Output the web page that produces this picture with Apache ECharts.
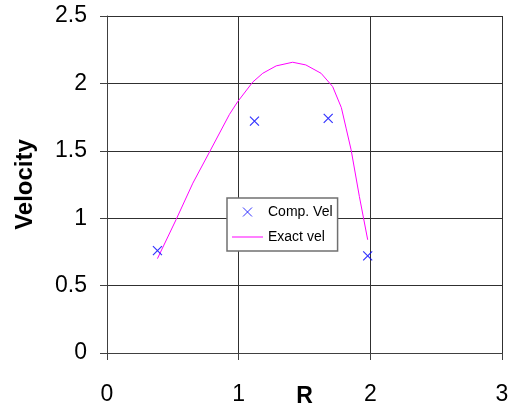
<!doctype html>
<html>
<head>
<meta charset="utf-8">
<script src="https://cdn.jsdelivr.net/npm/echarts@6/dist/echarts.min.js"></script>
</head>
<body style="margin:0;background:#fff">
<div id="chart" style="width:511px;height:409px;"></div>
<script>
// computed points
var compR = [0.383, 1.12, 1.68, 1.98];
var compV = [0.76, 1.72, 1.74, 0.72];

// exact solution curve
var exactR = [0.383, 0.525, 0.652, 0.778, 0.93, 0.993, 1.107, 1.183, 1.285, 1.41, 1.51, 1.626, 1.714, 1.78, 1.816, 1.854, 1.917, 1.98];
var exactV = [0.70, 0.99, 1.26, 1.49, 1.77, 1.865, 2.01, 2.075, 2.13, 2.157, 2.137, 2.075, 1.976, 1.82, 1.668, 1.507, 1.16, 0.84];

var xTicks = [0, 1, 2, 3];
var yTicks = [0, 0.5, 1, 1.5, 2, 2.5];

var font = 'Liberation Sans, Arial, sans-serif';
var crossIcon = 'path://M0,0L10,10M10,0L0,10';
var lineIcon = 'path://M0,4.5L31,4.5L31,5.5L0,5.5Z';

var chart = echarts.init(document.getElementById('chart'));

chart.setOption({
    animation: false,
    grid: { left: 107, right: 9, top: 16, bottom: 56, outerBoundsMode: 'none', containLabel: false },
    legend: {
        orient: 'vertical',
        left: 227,
        top: 198,
        padding: [7, 5, 7, 5],
        itemWidth: 31,
        itemHeight: 9,
        itemGap: 11,
        backgroundColor: '#fff',
        borderColor: '#707070',
        borderWidth: 1.5,
        textStyle: { fontFamily: font, fontSize: 14, color: '#000' },
        data: [
            { name: 'Comp. Vel', icon: crossIcon,
              itemStyle: { color: 'none', borderColor: '#0000ff', borderWidth: 1 } },
            { name: 'Exact vel', icon: lineIcon,
              itemStyle: { color: '#ff00ff', borderWidth: 0 } }
        ]
    },
    xAxis: {
        type: 'value',
        min: xTicks[0],
        max: xTicks[xTicks.length - 1],
        interval: 1,
        name: 'R',
        nameLocation: 'middle',
        nameGap: 32,
        nameMoveOverlap: false,
        nameTextStyle: { fontFamily: font, fontSize: 23, fontWeight: 'bold', color: '#000' },
        axisLine: { onZero: false, lineStyle: { color: '#404040', width: 1 } },
        axisTick: { show: true, length: 7, lineStyle: { color: '#404040' } },
        axisLabel: { margin: 30, fontFamily: font, fontSize: 23, color: '#000' },
        splitLine: { lineStyle: { color: '#303030', width: 1 } }
    },
    yAxis: {
        type: 'value',
        min: yTicks[0],
        max: yTicks[yTicks.length - 1],
        interval: 0.5,
        name: 'Velocity',
        nameLocation: 'middle',
        nameGap: 70,
        nameMoveOverlap: false,
        nameTextStyle: { fontFamily: font, fontSize: 24, fontWeight: 'bold', color: '#000' },
        axisLine: { show: true, onZero: false, lineStyle: { color: '#404040', width: 1 } },
        axisTick: { show: true, length: 7, lineStyle: { color: '#404040' } },
        axisLabel: { margin: 20, fontFamily: font, fontSize: 23, color: '#000' },
        splitLine: { lineStyle: { color: '#303030', width: 1 } }
    },
    series: [
        {
            name: 'Exact vel',
            type: 'line',
            data: exactR.map(function (r, i) { return [r, exactV[i]]; }),
            symbol: 'none',
            showSymbol: false,
            lineStyle: { color: '#ff00ff', width: 1 },
            itemStyle: { color: '#ff00ff' },
            z: 3
        },
        {
            name: 'Comp. Vel',
            type: 'scatter',
            data: compR.map(function (r, i) { return [r, compV[i]]; }),
            symbol: crossIcon,
            symbolSize: 9,
            itemStyle: { color: 'none', borderColor: '#0000ff', borderWidth: 1.2 },
            z: 4
        }
    ]
});
</script>
</body>
</html>
